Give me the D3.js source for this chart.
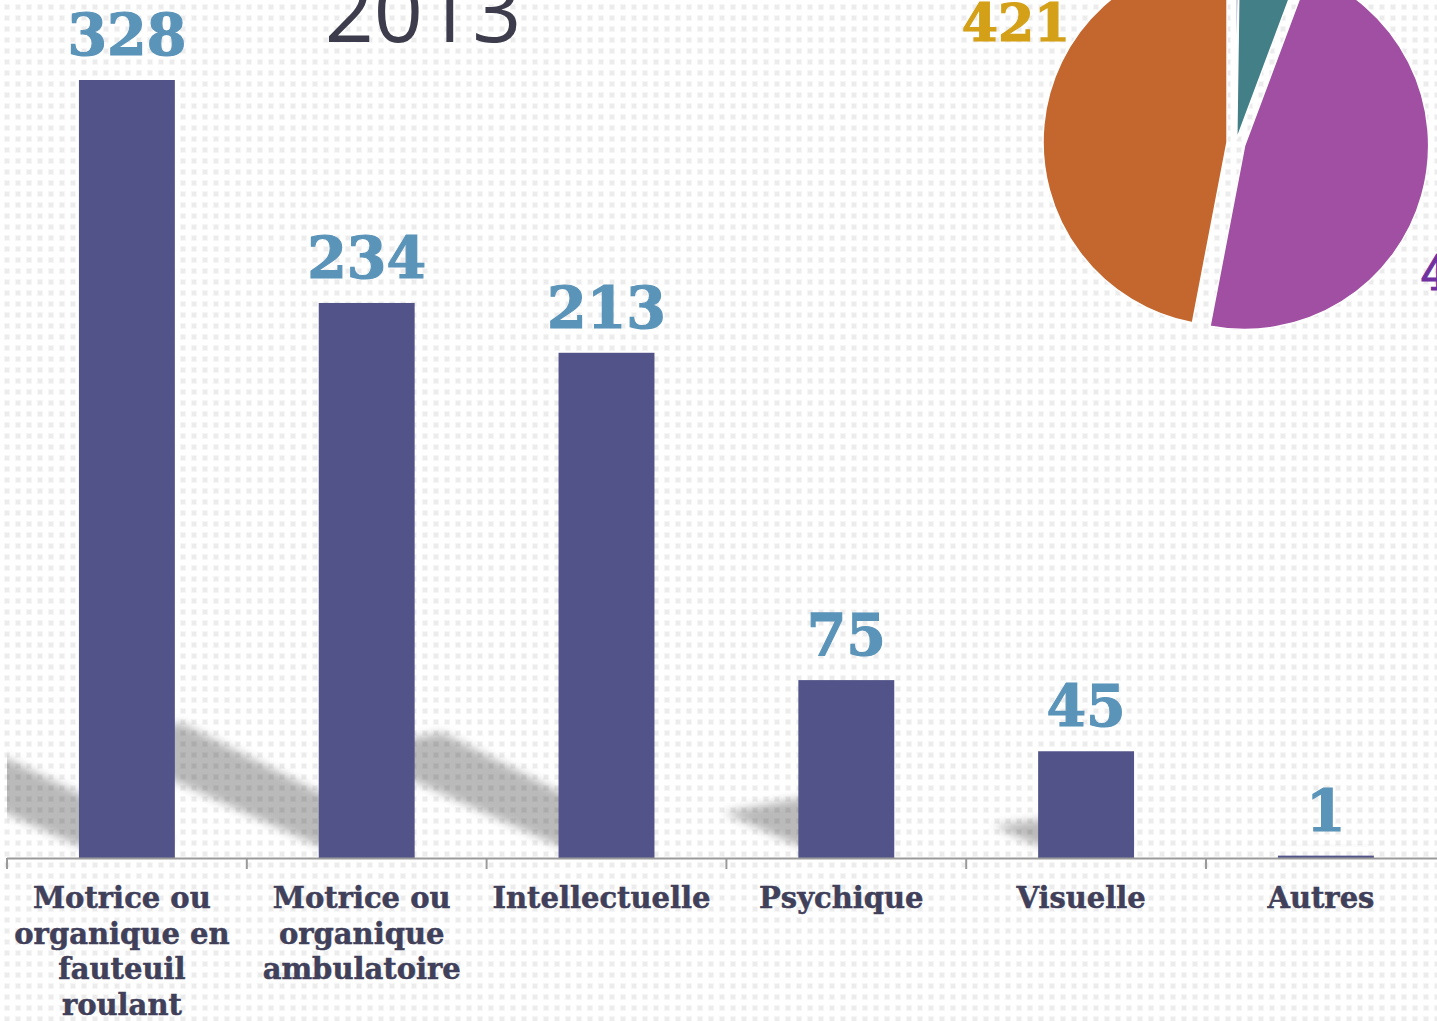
<!DOCTYPE html>
<html>
<head>
<meta charset="utf-8">
<script src="https://cdn.jsdelivr.net/npm/d3@7"></script>
<style>
  html, body { margin: 0; padding: 0; background: #ffffff; overflow: hidden; }
  svg { display: block; }
</style>
</head>
<body>
<svg id="chart" width="1437" height="1021"></svg>
<script>
// ---------- data ----------
const categories = [
  "Motrice ou organique en fauteuil roulant",
  "Motrice ou organique ambulatoire",
  "Intellectuelle",
  "Psychique",
  "Visuelle",
  "Autres"
];
const categoryLabelLines = [
  ["Motrice ou", "organique en", "fauteuil", "roulant"],
  ["Motrice ou", "organique", "ambulatoire"],
  ["Intellectuelle"],
  ["Psychique"],
  ["Visuelle"],
  ["Autres"]
];
const values = [328, 234, 213, 75, 45, 1];
const titleText = "2013";

const pieValues = [2, 49, 424, 421];
const pieColors = ["#4f4f8c", "#437f86", "#a04fa2", "#c3672f"];
const pieLabelColors = [null, null, "#7030a0", "#d4a017"];

// ---------- setup ----------
const W = 1437, H = 1021;
const svg = d3.select("#chart");
const defs = svg.append("defs");

// dotted background pattern
const pat = defs.append("pattern")
  .attr("id", "dots").attr("patternUnits", "userSpaceOnUse")
  .attr("width", 11).attr("height", 11).attr("x", 3).attr("y", 3);
pat.append("rect").attr("width", 11).attr("height", 11).attr("fill", "#ffffff");
pat.append("rect").attr("x", 1).attr("y", 1).attr("width", 6).attr("height", 6).attr("fill", "#f6f6f6");
pat.append("rect").attr("x", 2).attr("y", 2).attr("width", 4).attr("height", 4).attr("fill", "#ececec");
svg.append("rect").attr("width", W).attr("height", H).attr("fill", "url(#dots)");

// shadow blur
const blur = defs.append("filter").attr("id", "blur")
  .attr("x", "-50%").attr("y", "-50%").attr("width", "200%").attr("height", "200%");
blur.append("feGaussianBlur").attr("stdDeviation", 5);

defs.append("clipPath").attr("id", "plotClip")
  .append("rect").attr("x", 7).attr("y", 0).attr("width", W - 7).attr("height", 858);

// ---------- scales ----------
const baseY = 858;
const x = d3.scaleBand().domain(categories)
  .range([7, 7 + 6 * 239.8]).paddingInner(0.6).paddingOuter(0.3);
const y = d3.scaleLinear().domain([0, 328]).range([baseY, 80]);
const bw = x.bandwidth();
const step = x.step();

// ---------- title ----------
svg.append("text")
  .attr("x", 423).attr("y", 42)
  .attr("text-anchor", "middle")
  .attr("font-family", "'Open Sans', sans-serif")
  .attr("font-weight", 400)
  .attr("font-size", 86)
  .attr("fill", "#3c3c4c")
  .text(titleText);

// ---------- shadows ----------
const shadowG = svg.append("g").attr("clip-path", "url(#plotClip)");
shadowG.selectAll("path").data(values).join("path")
  .attr("d", (d, i) => {
    const x0 = x(categories[i]), x1 = x0 + bw;
    const h = baseY - y(d);
    const L = 0.42 * h, R = 0.45 * L;
    const b = baseY - 12;
    const t = Math.min(18, 0.12 * h);
    return `M${x0},${b} L${x1},${b - t * 0.3} L${x1 - L},${b - R - t} L${x0 - L},${b - R} Z`;
  })
  .attr("fill", "#000")
  .attr("fill-opacity", 0.27)
  .attr("filter", "url(#blur)");

// ---------- bars ----------
svg.append("g").selectAll("rect").data(values).join("rect")
  .attr("x", (d, i) => x(categories[i]))
  .attr("y", d => y(d))
  .attr("width", bw)
  .attr("height", d => baseY - y(d))
  .attr("fill", "#525489");

// ---------- axis ----------
const axisG = svg.append("g");
axisG.append("line")
  .attr("x1", 7).attr("x2", W).attr("y1", baseY + 0.5).attr("y2", baseY + 0.5)
  .attr("stroke", "#9a9a9a").attr("stroke-width", 2);
axisG.selectAll("line.tick").data(categories).join("line")
  .attr("class", "tick")
  .attr("x1", c => x(c) - (step - bw) / 2)
  .attr("x2", c => x(c) - (step - bw) / 2)
  .attr("y1", baseY).attr("y2", baseY + 11)
  .attr("stroke", "#9a9a9a").attr("stroke-width", 2);

// ---------- category labels ----------
const catG = svg.append("g")
  .attr("font-family", "'DejaVu Serif', serif")
  .attr("font-weight", "bold")
  .attr("font-size", 29)
  .attr("fill", "#40405a")
  .attr("stroke", "#40405a")
  .attr("stroke-width", 0.5)
  .attr("text-anchor", "middle");
categories.forEach((c, i) => {
  const cxl = x(c) + bw / 2 - 5;
  const t = catG.append("text").attr("x", cxl).attr("y", 908);
  categoryLabelLines[i].forEach((ln, j) => {
    t.append("tspan").attr("x", cxl).attr("dy", j === 0 ? 0 : 35.5).text(ln);
  });
});

// ---------- value labels ----------
svg.append("g").selectAll("text").data(values).join("text")
  .attr("x", (d, i) => x(categories[i]) + bw / 2)
  .attr("y", d => y(d) - 25)
  .attr("text-anchor", "middle")
  .attr("font-family", "'DejaVu Serif', serif")
  .attr("font-weight", "bold")
  .attr("font-size", 57)
  .attr("fill", "#5b94b9")
  .attr("stroke", "#5b94b9")
  .attr("stroke-width", 1.2)
  .text(d => d);

// ---------- pie ----------
const cx = 1236, cy = 143, r = 184;
const explode = [0, 4, 9, 9];
const pie = d3.pie().sort(null).value(d => d).startAngle(0).endAngle(2 * Math.PI);
const arc = d3.arc().innerRadius(0).outerRadius(r);
const arcs = pie(pieValues);
const pieG = svg.append("g").attr("transform", `translate(${cx},${cy})`);
pieG.selectAll("path").data(arcs).join("path")
  .attr("transform", (d, i) => {
    const a = (d.startAngle + d.endAngle) / 2;
    return `translate(${Math.sin(a) * explode[i]},${-Math.cos(a) * explode[i]})`;
  })
  .attr("d", arc)
  .attr("fill", (d, i) => pieColors[i])
  .attr("stroke", "#ffffff")
  .attr("stroke-width", 1.5);

// pie labels
svg.append("text")
  .attr("x", 1016).attr("y", 41)
  .attr("text-anchor", "middle")
  .attr("font-family", "'DejaVu Serif', serif")
  .attr("font-weight", "bold")
  .attr("font-size", 52)
  .attr("fill", pieLabelColors[3])
  .attr("stroke", pieLabelColors[3])
  .attr("stroke-width", 1.2)
  .text(pieValues[3]);
svg.append("text")
  .attr("x", 1420).attr("y", 290)
  .attr("text-anchor", "start")
  .attr("font-family", "'DejaVu Serif', serif")
  .attr("font-weight", "bold")
  .attr("font-size", 48)
  .attr("fill", pieLabelColors[2])
  .attr("stroke", pieLabelColors[2])
  .attr("stroke-width", 1)
  .text(pieValues[2]);
</script>
</body>
</html>
